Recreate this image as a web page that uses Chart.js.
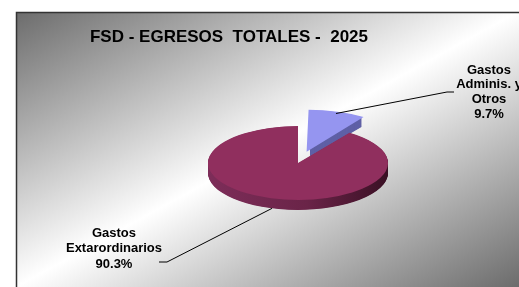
<!DOCTYPE html>
<html>
<head>
<meta charset="utf-8">
<script src="https://cdn.jsdelivr.net/npm/chart.js@4/dist/chart.umd.min.js"></script>
<style>
  html, body { margin: 0; padding: 0; background: #fff; }
  #wrap { width: 519px; height: 287px; }
</style>
</head>
<body>
<div id="wrap"><canvas id="egresos" width="519" height="287"></canvas></div>
<script>
const labels = ["Gastos Adminis. y Otros", "Gastos Extarordinarios"];
const percents = [9.7, 90.3];
const labelLines = [["Gastos", "Adminis. y", "Otros"], ["Gastos", "Extarordinarios"]];
const chartTitle = "FSD - EGRESOS  TOTALES -  2025";

const topColors = ["#9595F0", "#902F5E"];
const tilt = 0.41;
const depth = 10;

// same shift that the arc element applies for its offset
function offsetShift(arc) {
  const off = arc.options.offset || 0;
  const circ = arc.endAngle - arc.startAngle;
  const base = off / 4;
  const fix = 1 - Math.sin(Math.min(Math.PI, circ || 0));
  const d = base + base * fix;
  const mid = (arc.startAngle + arc.endAngle) / 2;
  return { dx: Math.cos(mid) * d, dy: Math.sin(mid) * d };
}

const background = {
  id: "background",
  beforeDraw(chart) {
    const ctx = chart.ctx;
    ctx.save();
    ctx.fillStyle = "#fff";
    ctx.fillRect(0, 0, chart.width, chart.height);
    const g = ctx.createLinearGradient(16, 12, 248, 435);
    g.addColorStop(0, "#6c6c6c");
    g.addColorStop(0.5, "#ffffff");
    g.addColorStop(1, "#6c6c6c");
    ctx.fillStyle = g;
    ctx.fillRect(16, 12, chart.width, chart.height);
    ctx.strokeStyle = "#333";
    ctx.lineWidth = 1.5;
    ctx.strokeRect(16.5, 12.5, chart.width + 10, chart.height + 10);
    ctx.restore();
  }
};

const pie3d = {
  id: "pie3d",
  beforeDatasetsDraw(chart) {
    const ctx = chart.ctx;
    const arcs = chart.getDatasetMeta(0).data;
    const cy0 = arcs[0].y;
    ctx.save();
    ctx.translate(0, cy0);
    ctx.scale(1, tilt);
    ctx.translate(0, -cy0);
    arcs.forEach((arc, i) => {
      const s = offsetShift(arc);
      const cx = arc.x + s.dx;
      const cy = arc.y + s.dy;
      const r = arc.outerRadius;
      let fill;
      if (i === 1) {
        fill = ctx.createLinearGradient(cx - r, 0, cx + r, 0);
        fill.addColorStop(0, "#7d2d59");
        fill.addColorStop(0.55, "#6a2448");
        fill.addColorStop(1, "#3a1024");
      } else {
        fill = "#5f60a6";
      }
      ctx.fillStyle = fill;
      for (let d = depth; d > 0; d -= 0.5) {
        ctx.beginPath();
        ctx.moveTo(cx, cy + d / tilt);
        ctx.arc(cx, cy + d / tilt, r, arc.startAngle, arc.endAngle);
        ctx.closePath();
        ctx.fill();
      }
    });
  },
  afterDatasetsDraw(chart) {
    chart.ctx.restore();
  }
};

const texts = {
  id: "texts",
  afterDraw(chart) {
    const ctx = chart.ctx;
    const arcs = chart.getDatasetMeta(0).data;
    ctx.save();
    ctx.fillStyle = "#000";
    ctx.textAlign = "center";
    ctx.textBaseline = "middle";
    ctx.font = "bold 17px 'Liberation Sans', Arial, sans-serif";
    ctx.fillText(chartTitle, 229, 37);

    // leader to small slice
    const a0 = arcs[0];
    const s0 = offsetShift(a0);
    const m0 = (a0.startAngle + a0.endAngle) / 2;
    const p0x = a0.x + s0.dx + Math.cos(m0) * a0.outerRadius * 0.95;
    const p0y = a0.y + (s0.dy + Math.sin(m0) * a0.outerRadius * 0.95) * tilt;

    // leader to big slice, from the bottom of its wall
    const a1 = arcs[1];
    const ang = Math.PI * 0.593;
    const p1x = a1.x + Math.cos(ang) * a1.outerRadius;
    const p1y = a1.y + Math.sin(ang) * a1.outerRadius * tilt + depth;

    ctx.strokeStyle = "#000";
    ctx.lineWidth = 1;
    ctx.beginPath();
    ctx.moveTo(p0x, p0y);
    ctx.lineTo(447, 92);
    ctx.lineTo(454, 92);
    ctx.moveTo(p1x, p1y);
    ctx.lineTo(167, 262);
    ctx.lineTo(159, 262);
    ctx.stroke();

    ctx.font = "bold 13px 'Liberation Sans', Arial, sans-serif";
    const l0 = labelLines[0].concat([percents[0].toFixed(1) + "%"]);
    l0.forEach((t, k) => ctx.fillText(t, 489, 70 + k * 14.7));
    const l1 = labelLines[1].concat([percents[1].toFixed(1) + "%"]);
    l1.forEach((t, k) => ctx.fillText(t, 114, 233 + k * 15.5));
    ctx.restore();
  }
};

new Chart("egresos", {
  type: "pie",
  data: {
    labels: labels,
    datasets: [
      {
        data: percents,
        backgroundColor: topColors,
        borderWidth: 0,
        offset: [115, 0],
        clip: false
      }
    ]
  },
  options: {
    responsive: false,
    animation: false,
    radius: 90,
    events: [],
    layout: {
      padding: { left: 198, right: 121, top: 63, bottom: 24 }
    },
    plugins: {
      legend: { display: false },
      title: { display: false },
      tooltip: { enabled: false }
    }
  },
  plugins: [background, pie3d, texts]
});
</script>
</body>
</html>
